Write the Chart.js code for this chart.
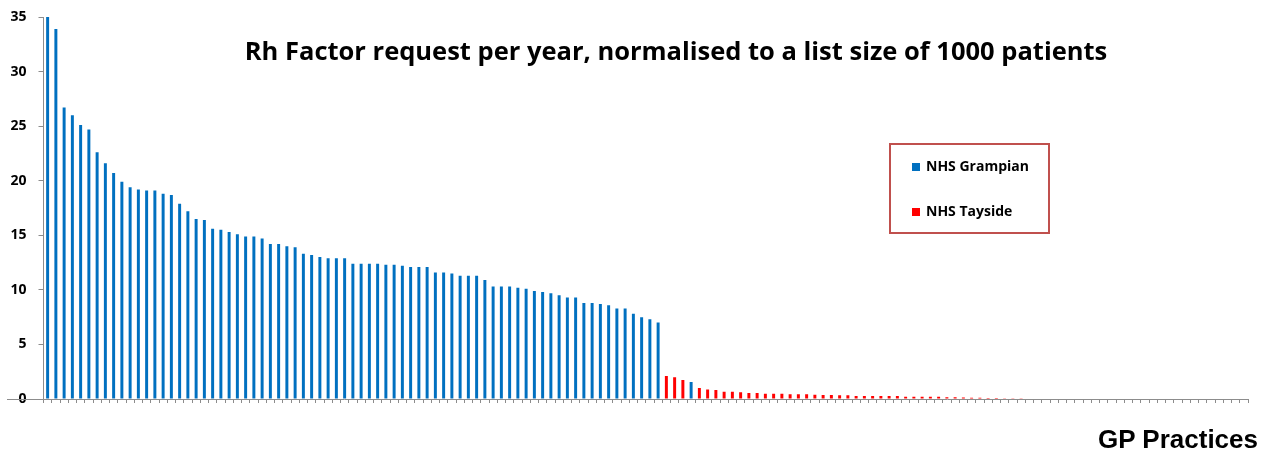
<!DOCTYPE html>
<html>
<head>
<meta charset="utf-8">
<script src="https://cdn.jsdelivr.net/npm/chart.js@4.4.1/dist/chart.umd.min.js"></script>
<style>
  html, body { margin: 0; padding: 0; background: #fff; }
  #wrap { position: relative; width: 1272px; height: 452px; overflow: hidden; }
  #chart { position: absolute; left: 0; top: 0; }
  .title {
    position: absolute; left: 0; width: 1352px; top: 35px; text-align: center;
    font: bold 25.5px/30px 'Open Sans', sans-serif; color: #000; white-space: nowrap;
  }
  .xtitle {
    position: absolute; right: 14px; top: 424px;
    font: bold 26px/30px 'Liberation Sans', Arial, sans-serif; color: #000;
  }
  .legend {
    position: absolute; left: 889px; top: 143px; width: 157px; height: 87px;
    border: 2px solid #c0504d;
    font: bold 14px/18px 'Open Sans', sans-serif; color: #000;
  }
  .legend .item { position: absolute; left: 21px; white-space: nowrap; }
  .legend .sw { display: inline-block; width: 8px; height: 8px; margin-right: 6px; }
</style>
</head>
<body>
<div id="wrap">
  <canvas id="chart" width="1272" height="452"></canvas>
  <div class="title">Rh Factor request per year, normalised to a list size of 1000 patients</div>
  <div class="legend">
    <div class="item" style="top:12px"><span class="sw" style="background:#0070c0"></span>NHS Grampian</div>
    <div class="item" style="top:57px"><span class="sw" style="background:#ff0000"></span>NHS Tayside</div>
  </div>
  <div class="xtitle">GP Practices</div>
</div>
<script>
// Rh factor requests per 1000 patients, practices sorted high to low
var rhValues = [
  35.0, 33.9, 26.7, 26.0, 25.1, 24.7, 22.6, 21.6, 20.7, 19.9,
  19.4, 19.2, 19.1, 19.1, 18.8, 18.7, 17.9, 17.2, 16.5, 16.4,
  15.6, 15.5, 15.3, 15.1, 14.9, 14.9, 14.7, 14.2, 14.2, 14.0,
  13.9, 13.3, 13.2, 13.0, 12.9, 12.9, 12.9, 12.4, 12.4, 12.4,
  12.4, 12.3, 12.3, 12.2, 12.1, 12.1, 12.1, 11.6, 11.6, 11.5,
  11.3, 11.3, 11.3, 10.9, 10.3, 10.3, 10.3, 10.2, 10.1, 9.9,
  9.8, 9.7, 9.5, 9.3, 9.3, 8.8, 8.8, 8.7, 8.6, 8.3,
  8.3, 7.8, 7.5, 7.3, 7.0, 2.1, 2.0, 1.75, 1.55, 1.0,
  0.88, 0.82, 0.67, 0.67, 0.61, 0.55, 0.55, 0.49, 0.49, 0.49,
  0.43, 0.43, 0.43, 0.40, 0.37, 0.37, 0.34, 0.34, 0.27, 0.27,
  0.27, 0.27, 0.27, 0.27, 0.21, 0.21, 0.21, 0.21, 0.21, 0.15,
  0.15, 0.13, 0.12, 0.11, 0.10, 0.09, 0.08, 0.07, 0.06, 0,
  0, 0, 0, 0, 0, 0, 0, 0, 0, 0,
  0, 0, 0, 0, 0, 0, 0, 0, 0, 0,
  0, 0, 0, 0, 0, 0
];

// health board of each practice: G = NHS Grampian, T = NHS Tayside
var boards = ('GGGGGGGGGGGGGGGGGGGGGGGGGGGGGGGGGGGGGGGGGGGGGGGGGGGGGGGGGGGGGGGGGGGGGGGGGGG' +
              'TTTGTTTTTTTTTTTTTTTTTTTTTTTTTTTTTTTTTTTTTTTTTTTTTTTTTTTTTTTTTTTTTTTTTTT').split('');

var practices = rhValues.map(function (v, i) { return String(i + 1); });

var yTicks = [0, 5, 10, 15, 20, 25, 30, 35];

var grampianData = rhValues.map(function (v, i) { return boards[i] === 'G' ? v : null; });
var taysideData  = rhValues.map(function (v, i) { return boards[i] === 'T' ? v : null; });

var AXIS = '#8c8c8c';

// x axis line runs a little left past the y axis, as in the original
var axisExtend = {
  id: 'axisExtend',
  afterDraw: function (chart) {
    var ctx = chart.ctx, a = chart.chartArea;
    ctx.save();
    ctx.strokeStyle = AXIS;
    ctx.lineWidth = 1;
    ctx.beginPath();
    ctx.moveTo(7, Math.round(a.bottom) + 0.5);
    ctx.lineTo(a.left, Math.round(a.bottom) + 0.5);
    ctx.stroke();
    ctx.restore();
  }
};

new Chart(document.getElementById('chart'), {
  type: 'bar',
  data: {
    labels: practices,
    datasets: [
      { label: 'NHS Grampian', data: grampianData, backgroundColor: '#0070c0' },
      { label: 'NHS Tayside',  data: taysideData,  backgroundColor: '#ff0000' }
    ]
  },
  options: {
    responsive: false, animation: false,
    layout: { padding: { left: 0, right: 24, top: 17, bottom: 0 } },
    datasets: { bar: { grouped: false, categoryPercentage: 1, barPercentage: 0.36 } },
    plugins: { legend: { display: false }, tooltip: { enabled: false } },
    scales: {
      x: {
        offset: true,
        grid: { drawOnChartArea: false, drawTicks: true, tickLength: 4, offset: true, color: AXIS },
        border: { color: AXIS },
        ticks: { display: false, autoSkip: false },
        afterFit: function (s) { s.height = 53; }
      },
      y: {
        min: 0, max: 35,
        afterBuildTicks: function (s) { s.ticks = yTicks.map(function (v) { return { value: v }; }); },
        grid: { drawOnChartArea: false, drawTicks: true, tickLength: 5, color: AXIS },
        border: { color: AXIS },
        ticks: { color: '#000', padding: 12, font: { family: 'Open Sans', weight: 'bold', size: 14 } },
        afterFit: function (s) { s.width = 43.5; s.paddingTop = 0; s.paddingBottom = 0; }
      }
    }
  },
  plugins: [axisExtend]
});
</script>
</body>
</html>
